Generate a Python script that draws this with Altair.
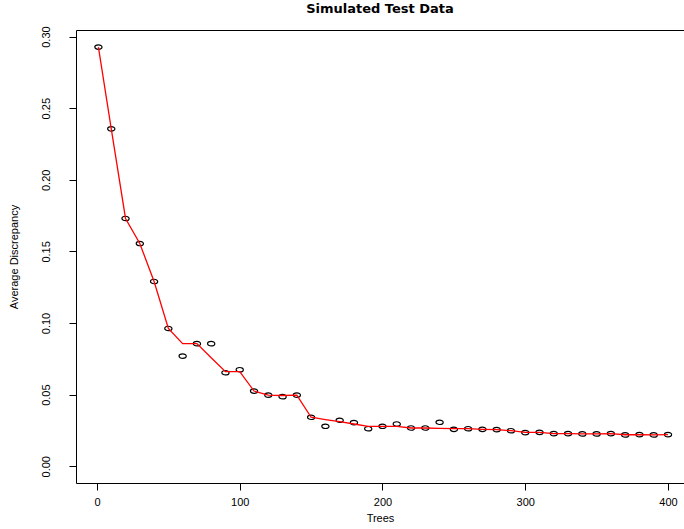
import altair as alt
import pandas as pd

trees = [1, 10, 20, 30, 40, 50, 60, 70, 80, 90, 100, 110, 120, 130, 140, 150,
         160, 170, 180, 190, 200, 210, 220, 230, 240, 250, 260, 270, 280, 290,
         300, 310, 320, 330, 340, 350, 360, 370, 380, 390, 400]

discrepancy = [0.2927, 0.2356, 0.1730, 0.1555, 0.1290, 0.0962, 0.0769, 0.0856,
               0.0856, 0.0653, 0.0674, 0.0525, 0.0497, 0.0486, 0.0497, 0.0342,
               0.0279, 0.0321, 0.0305, 0.0262, 0.0279, 0.0295, 0.0267, 0.0267,
               0.0307, 0.0258, 0.0262, 0.0258, 0.0256, 0.0248, 0.0235, 0.0237,
               0.0228, 0.0228, 0.0226, 0.0226, 0.0228, 0.0219, 0.0221, 0.0219,
               0.0221]

smoothed = [0.2927, 0.2356, 0.1730, 0.1555, 0.1290, 0.0962, 0.0856, 0.0856,
            0.0758, 0.0660, 0.0660, 0.0525, 0.0497, 0.0494, 0.0497, 0.0342,
            0.0326, 0.0312, 0.0295, 0.0279, 0.0279, 0.0279, 0.0267, 0.0267,
            0.0265, 0.0262, 0.0262, 0.0258, 0.0256, 0.0248, 0.0237, 0.0237,
            0.0228, 0.0228, 0.0226, 0.0226, 0.0228, 0.0220, 0.0221, 0.0219,
            0.0221]

x_ticks = [0, 100, 200, 300, 400]
y_ticks = [0.00, 0.05, 0.10, 0.15, 0.20, 0.25, 0.30]

df = pd.DataFrame({"Trees": trees, "Discrepancy": discrepancy, "Smoothed": smoothed})

FONT = "Liberation Sans"

x_scale = alt.Scale(domain=[-14.7, 411.2], nice=False, zero=False)
y_scale = alt.Scale(domain=[-0.0117, 0.3046], nice=False, zero=False)

x_axis = alt.Axis(
    values=x_ticks, title="Trees", format="d", domain=False, grid=False,
    tickSize=7, tickColor="black", tickWidth=1, labelPadding=6,
    labelFont=FONT, labelFontSize=11, labelColor="black",
    titleFont=FONT, titleFontSize=11, titleFontWeight="normal", titleColor="black",
    titleY=35, titleBaseline="middle",
)
y_axis = alt.Axis(
    values=y_ticks, title="Average Discrepancy", format=".2f", domain=False, grid=False,
    tickSize=7, tickColor="black", tickWidth=1, labelPadding=18,
    labelAngle=270, labelAlign="center", labelBaseline="bottom",
    labelFont=FONT, labelFontSize=11, labelColor="black",
    titleFont=FONT, titleFontSize=11, titleFontWeight="normal", titleColor="black",
    titleX=-62, titleBaseline="middle", titleAngle=270,
)

ellipse = "M -1 0 A 1 0.62 0 1 1 1 0 A 1 0.62 0 1 1 -1 0 Z"

points = alt.Chart(df).mark_point(
    shape=ellipse, filled=False, color="black", size=52, strokeWidth=1.2, opacity=1
).encode(
    x=alt.X("Trees:Q", scale=x_scale, axis=x_axis),
    y=alt.Y("Discrepancy:Q", scale=y_scale, axis=y_axis),
)

line = alt.Chart(df).mark_line(color="#FF0000", strokeWidth=1.3).encode(
    x=alt.X("Trees:Q", scale=x_scale),
    y=alt.Y("Smoothed:Q", scale=y_scale),
)

chart = alt.layer(points, line).properties(
    width=608,
    height=453,
    title=alt.TitleParams(
        "Simulated Test Data", font="DejaVu Sans", fontSize=13, fontWeight="bold",
        color="black", anchor="middle", offset=10,
    ),
    autosize=alt.AutoSizeParams(type="none"),
    padding={"left": 76, "top": 30, "right": 0, "bottom": 46},
    background="white",
).configure_view(stroke="black", strokeWidth=1)

chart.save("out.html", embed_options={"renderer": "svg", "actions": False})
